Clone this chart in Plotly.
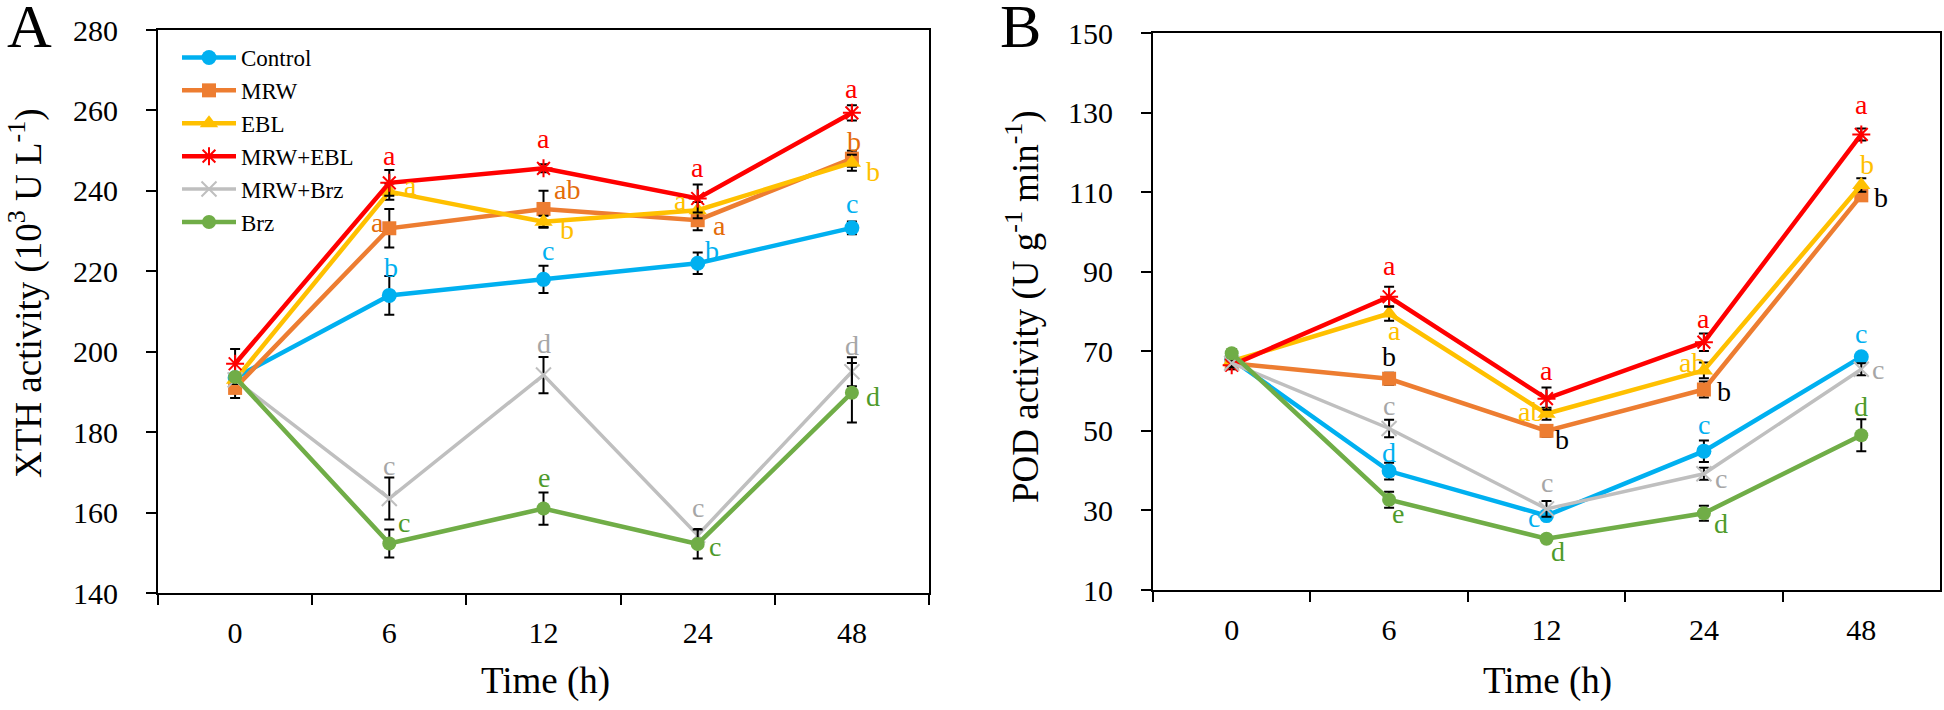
import plotly.graph_objects as go

# ---------------- data ----------------
times = ["0", "6", "12", "24", "48"]
series_names = ["Control", "MRW", "EBL", "MRW+EBL", "MRW+Brz", "Brz"]

# Panel A: XTH activity (10^3 U L^-1)
xth_control = [193.5, 214.0, 218.0, 222.0, 230.8]
xth_mrw = [191.0, 230.7, 235.5, 232.7, 248.0]
xth_ebl = [193.0, 239.8, 232.3, 235.2, 247.0]
xth_mrw_ebl = [197.0, 242.0, 245.6, 238.1, 259.4]
xth_mrw_brz = [193.0, 163.5, 194.2, 154.4, 195.0]
xth_brz = [193.7, 152.3, 161.0, 152.2, 189.8]

xth_control_err = [0.8, 4.8, 3.4, 2.7, 1.6]
xth_mrw_err = [2.5, 4.8, 4.5, 2.5, 2.0]
xth_ebl_err = [1.0, 2.0, 1.5, 2.0, 2.0]
xth_mrw_ebl_err = [3.7, 3.2, 1.0, 3.5, 1.9]
xth_mrw_brz_err = [1.0, 5.2, 4.5, 1.5, 3.6]
xth_brz_err = [1.0, 3.5, 4.0, 3.6, 7.4]

xth_control_sig = ["", "b", "c", "b", "c"]
xth_mrw_sig = ["", "a", "ab", "a", "b"]
xth_ebl_sig = ["", "a", "b", "a", "b"]
xth_mrw_ebl_sig = ["", "a", "a", "a", "a"]
xth_mrw_brz_sig = ["", "c", "d", "c", "d"]
xth_brz_sig = ["", "c", "e", "c", "d"]

# Panel B: POD activity (U g^-1 min^-1)
pod_control = [68.0, 39.9, 28.7, 44.9, 68.6]
pod_mrw = [67.0, 63.1, 50.0, 60.4, 109.2]
pod_ebl = [67.5, 79.5, 54.3, 65.2, 111.8]
pod_mrw_ebl = [66.5, 83.7, 58.1, 72.3, 124.5]
pod_mrw_brz = [67.0, 50.6, 30.4, 39.2, 65.5]
pod_brz = [69.5, 32.7, 22.9, 29.3, 48.9]

pod_control_err = [1.0, 2.1, 1.0, 2.7, 1.0]
pod_mrw_err = [1.0, 1.5, 1.5, 2.0, 1.0]
pod_ebl_err = [1.0, 1.8, 1.5, 2.0, 1.7]
pod_mrw_ebl_err = [1.0, 2.5, 2.8, 2.2, 1.5]
pod_mrw_brz_err = [1.0, 2.2, 2.0, 1.5, 1.5]
pod_brz_err = [1.0, 2.0, 0.8, 1.9, 4.0]

pod_control_sig = ["", "d", "c", "c", "c"]
pod_mrw_sig = ["", "b", "b", "b", "b"]
pod_ebl_sig = ["", "a", "ab", "ab", "b"]
pod_mrw_ebl_sig = ["", "a", "a", "a", "a"]
pod_mrw_brz_sig = ["", "c", "c", "c", "c"]
pod_brz_sig = ["", "e", "d", "d", "d"]

# ---------------- styles / label offsets (pixels) ----------------
colors = ["#00B0F0", "#ED7D31", "#FFC000", "#FF0000", "#BFBFBF", "#70AD47"]
letter_colors_a = ["#00B0F0", "#E46C0A", "#FFC000", "#FF0000", "#A6A6A6", "#4E9A2A"]
letter_colors_b = ["#00B0F0", "#000000", "#FFC000", "#FF0000", "#A6A6A6", "#4E9A2A"]
symbols = ["circle", "square", "triangle-up", "asterisk-open", "x-thin-open", "circle"]
msizes = [15, 14, 16, 15, 15, 14]
lwidths = [4.5, 4.5, 4.5, 4.5, 3.5, 4.5]

xth_off = [
    [None, (2, 28), (4, 29), (14, 13), (0, 24)],
    [None, (-12, 6), (23, 19), (22, -5), (2, 17)],
    [None, (21, 6), (23, -8), (-17, 10), (21, -9)],
    [None, (0, 27), (0, 30), (0, 31), (0, 24)],
    [None, (0, 33), (0, 32), (0, 28), (0, 26)],
    [None, (15, 21), (0, 31), (17, -3), (21, -4)],
]
pod_off = [
    [None, (0, 19), (-13, -2), (0, 27), (0, 23)],
    [None, (0, 22), (15, -9), (20, -2), (20, -2)],
    [None, (5, -17), (-16, 2), (-12, 8), (6, 20)],
    [None, (0, 31), (0, 28), (0, 24), (0, 30)],
    [None, (0, 23), (0, 26), (17, -5), (17, 0)],
    [None, (9, -14), (11, -13), (17, -10), (0, 29)],
]

xth_vals = [xth_control, xth_mrw, xth_ebl, xth_mrw_ebl, xth_mrw_brz, xth_brz]
xth_errs = [xth_control_err, xth_mrw_err, xth_ebl_err, xth_mrw_ebl_err, xth_mrw_brz_err, xth_brz_err]
xth_sigs = [xth_control_sig, xth_mrw_sig, xth_ebl_sig, xth_mrw_ebl_sig, xth_mrw_brz_sig, xth_brz_sig]
pod_vals = [pod_control, pod_mrw, pod_ebl, pod_mrw_ebl, pod_mrw_brz, pod_brz]
pod_errs = [pod_control_err, pod_mrw_err, pod_ebl_err, pod_mrw_ebl_err, pod_mrw_brz_err, pod_brz_err]
pod_sigs = [pod_control_sig, pod_mrw_sig, pod_ebl_sig, pod_mrw_ebl_sig, pod_mrw_brz_sig, pod_brz_sig]

FONT = "Liberation Serif"
fig = go.Figure()
annotations = []

def add_panel(vals, errs, sigs, offs, lcolors, xa, ya, showleg):
    for i, name in enumerate(series_names):
        line_marker = dict(symbol=symbols[i], size=msizes[i], color=colors[i],
                           line=dict(color=colors[i], width=2 if "open" in symbols[i] else 0))
        fig.add_trace(go.Scatter(
            x=times, y=vals[i], name=name, mode="lines+markers",
            line=dict(color=colors[i], width=lwidths[i]),
            marker=line_marker,
            error_y=dict(type="data", array=errs[i], visible=True, color="black",
                         thickness=2, width=5),
            xaxis=xa, yaxis=ya, showlegend=showleg,
        ))
    for i in range(len(series_names)):
        for j in range(len(times)):
            s = sigs[i][j]
            if not s:
                continue
            dx, dy = offs[i][j]
            # category index j on the category x axis
            annotations.append(dict(
                x=j, y=vals[i][j], xref=xa, yref=ya, text=s, showarrow=False,
                xshift=dx, yshift=dy, font=dict(family=FONT, size=28, color=lcolors[i]),
            ))

add_panel(xth_vals, xth_errs, xth_sigs, xth_off, letter_colors_a, "x", "y", True)
add_panel(pod_vals, pod_errs, pod_sigs, pod_off, letter_colors_b, "x2", "y2", False)

W, H = 1944, 710
def px_x(p):
    return p / W
def px_y(p):
    return 1 - p / H

axis_common = dict(showline=True, linecolor="black", linewidth=2, mirror=True,
                   ticks="outside", ticklen=10, tickwidth=2, tickcolor="black",
                   showgrid=False, zeroline=False, automargin=False,
                   tickfont=dict(family=FONT, size=30, color="black"))

fig.update_layout(
    width=W, height=H,
    margin=dict(l=0, r=0, t=0, b=0, autoexpand=False),
    plot_bgcolor="white", paper_bgcolor="white",
    font=dict(family=FONT, color="black"),
    xaxis=dict(axis_common, type="category", tickson="boundaries", range=[-0.5, 4.5],
               domain=[px_x(158), px_x(929)], anchor="y", ticklabelstandoff=12),
    yaxis=dict(axis_common, range=[140, 280], dtick=20, tick0=140,
               domain=[px_y(593), px_y(30)], anchor="x", ticklabelstandoff=22),
    xaxis2=dict(axis_common, type="category", tickson="boundaries", range=[-0.5, 4.5],
                domain=[px_x(1153), px_x(1940)], anchor="y2", ticklabelstandoff=12),
    yaxis2=dict(axis_common, range=[10, 150], dtick=20, tick0=10,
                domain=[px_y(590), px_y(33)], anchor="x2", ticklabelstandoff=22),
    legend=dict(x=px_x(177), y=px_y(36), xanchor="left", yanchor="top",
                bgcolor="rgba(0,0,0,0)", borderwidth=0,
                font=dict(family=FONT, size=23, color="black"),
                tracegroupgap=0, itemwidth=54),
)

titles = [
    dict(text="XTH activity (10<sup>3</sup> U L<sup>-1</sup>)", x=px_x(26), y=px_y(293), textangle=-90),
    dict(text="POD activity (U g<sup>-1</sup> min<sup>-1</sup>)", x=px_x(1023), y=px_y(307), textangle=-90),
    dict(text="Time (h)", x=px_x(545), y=px_y(681), textangle=0),
    dict(text="Time (h)", x=px_x(1547), y=px_y(681), textangle=0),
]
for t in titles:
    annotations.append(dict(text=t["text"], x=t["x"], y=t["y"], xref="paper", yref="paper",
                            textangle=t["textangle"], showarrow=False, xanchor="center", yanchor="middle",
                            font=dict(family=FONT, size=37, color="black")))
for lab, xp in [("A", 29), ("B", 1020)]:
    annotations.append(dict(text=lab, x=px_x(xp), y=px_y(26), xref="paper", yref="paper",
                            showarrow=False, xanchor="center", yanchor="middle",
                            font=dict(family=FONT, size=62, color="black")))

fig.update_layout(annotations=annotations)
# remove the browser's default page margin so the figure sits at the window origin
fig.write_html("out.html", config={"displayModeBar": False},
               post_script="document.body.style.margin='0';")
